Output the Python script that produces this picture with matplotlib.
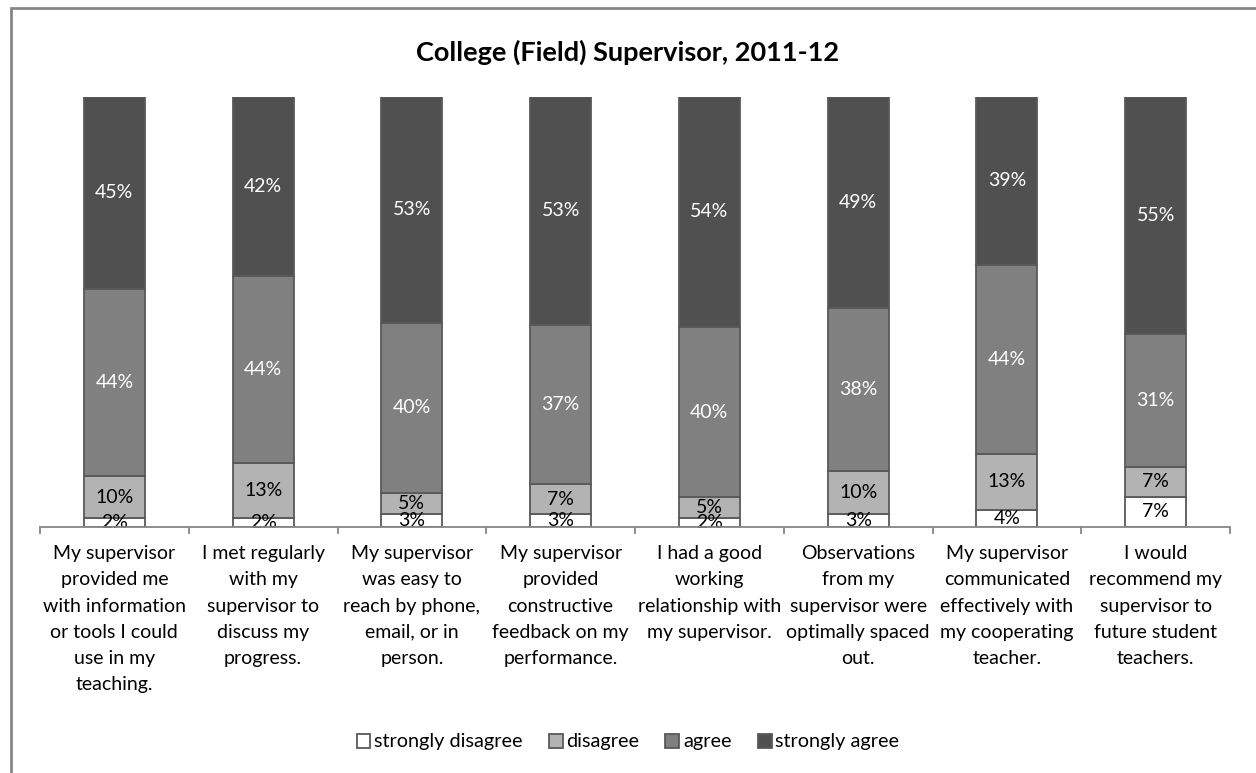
import numpy as np
import matplotlib
matplotlib.use("Agg")
import matplotlib.pyplot as plt
from matplotlib.patches import Rectangle

plt.rcParams['font.family'] = ['Lato', 'DejaVu Sans']

questions = [
    "My supervisor\nprovided me\nwith information\nor tools I could\nuse in my\nteaching.",
    "I met regularly\nwith my\nsupervisor to\ndiscuss my\nprogress.",
    "My supervisor\nwas easy to\nreach by phone,\nemail, or in\nperson.",
    "My supervisor\nprovided\nconstructive\nfeedback on my\nperformance.",
    "I had a good\nworking\nrelationship with\nmy supervisor.",
    "Observations\nfrom my\nsupervisor were\noptimally spaced\nout.",
    "My supervisor\ncommunicated\neffectively with\nmy cooperating\nteacher.",
    "I would\nrecommend my\nsupervisor to\nfuture student\nteachers.",
]
strongly_disagree = [2, 2, 3, 3, 2, 3, 4, 7]
disagree = [10, 13, 5, 7, 5, 10, 13, 7]
agree = [44, 44, 40, 37, 40, 38, 44, 31]
strongly_agree = [45, 42, 53, 53, 54, 49, 39, 55]

series = [
    ("strongly disagree", strongly_disagree, "#ffffff", "black"),
    ("disagree", disagree, "#b3b3b3", "black"),
    ("agree", agree, "#808080", "white"),
    ("strongly agree", strongly_agree, "#505050", "white"),
]

# 100% stacked: scale each column to its total
totals = np.sum([s[1] for s in series], axis=0)

fig = plt.figure(figsize=(12.56, 7.73), dpi=100)
ax = fig.add_axes([40/1256, 1-527/773, 1190/1256, 430/773])

x = np.arange(len(questions))
bottom = np.zeros(len(questions))
for name, vals, color, tcolor in series:
    share = np.array(vals) / totals
    ax.bar(x, share, 0.41, bottom=bottom, color=color, edgecolor="#595959",
           linewidth=1.3, label=name, zorder=2)
    for xi, b, h, v in zip(x, bottom, share, vals):
        ax.text(xi, b + h/2, f"{v}%", ha="center", va="center",
                fontsize=14, color=tcolor, zorder=3)
    bottom += share

ax.set_xlim(-0.5, len(questions) - 0.5)
ax.set_ylim(0, 1)
ax.set_yticks([])
for s in ["top", "right", "left"]:
    ax.spines[s].set_visible(False)
ax.spines["bottom"].set_color("#868686")
ax.spines["bottom"].set_linewidth(1.3)
ax.spines["bottom"].set_zorder(4)

ax.set_xticks(x)
ax.set_xticklabels(questions, fontsize=14, linespacing=1.66)
ax.tick_params(axis="x", which="major", length=0, pad=13)
ax.set_xticks(np.arange(len(questions) + 1) - 0.5, minor=True)
ax.tick_params(axis="x", which="minor", length=5, width=1.3, color="#868686")

fig.text(0.5, 1-52/773, "College (Field) Supervisor, 2011-12", ha="center",
         va="center", fontsize=19.5, fontweight="bold")

handles, labels = ax.get_legend_handles_labels()
fig.legend(handles, labels, loc="center", bbox_to_anchor=(0.5, 1-742/773),
           ncol=4, frameon=False, fontsize=14.3, handlelength=0.7,
           handleheight=0.7, handletextpad=0.2, columnspacing=1.3)

# outer chart border
fig.patches.append(Rectangle((11/1256, -0.05), 1.1, 1.05 - 8/773,
                             transform=fig.transFigure, fill=False,
                             edgecolor="#868686", linewidth=2))

fig.savefig("out.png", dpi=100)
